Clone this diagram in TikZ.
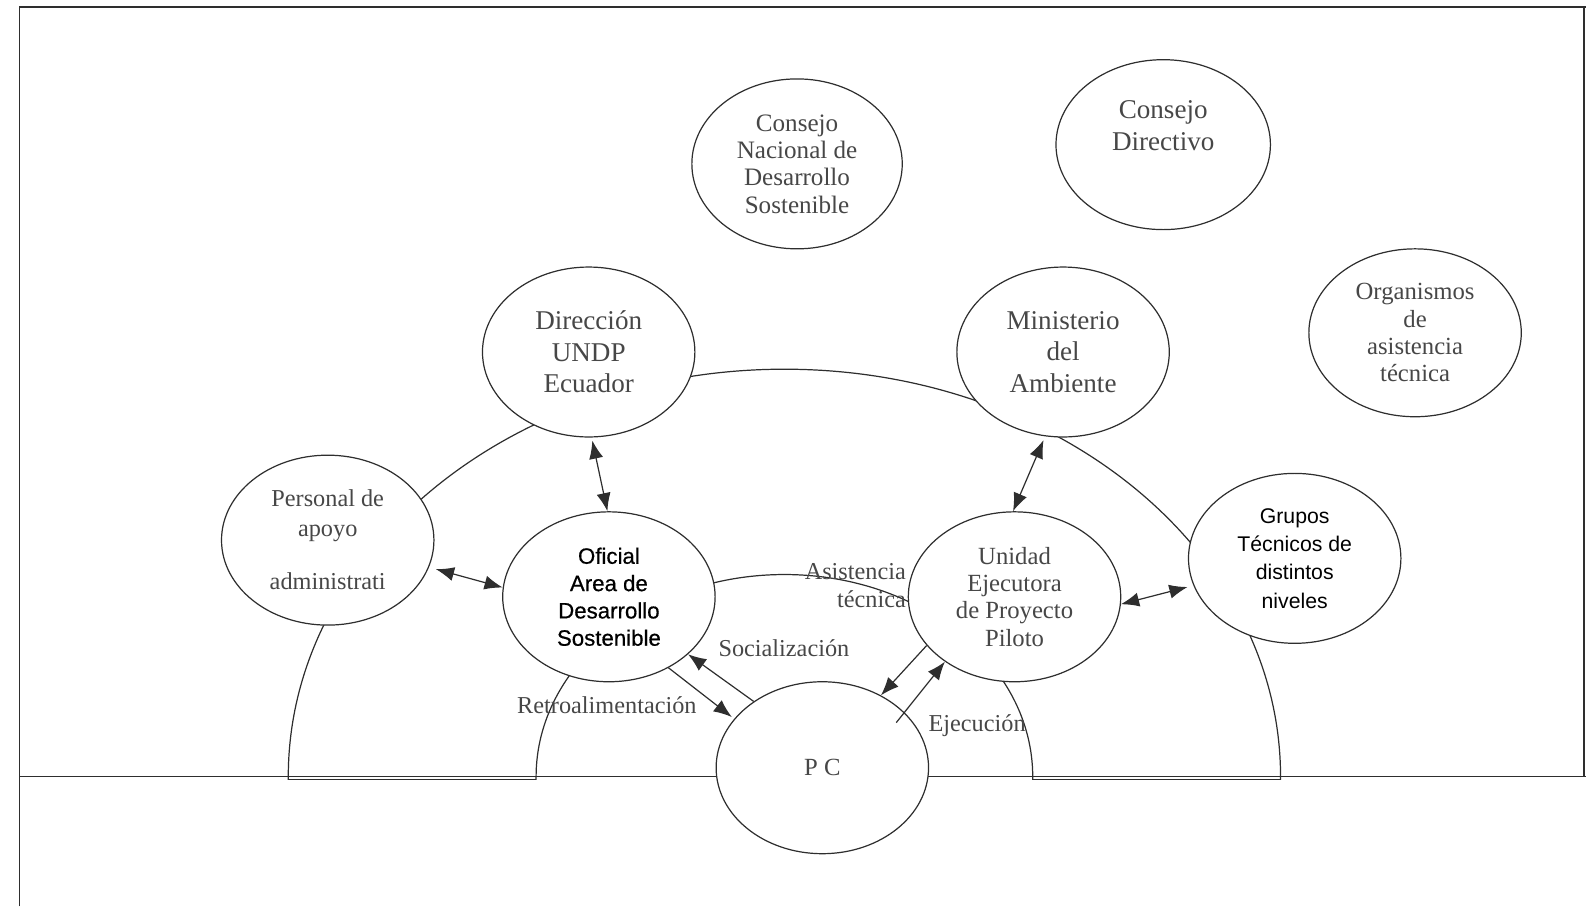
\documentclass[tikz,border=0pt]{standalone}
\usepackage{fontspec}
\setmainfont{Liberation Serif}
\newfontfamily\arialfam{Liberation Sans}
\newfontfamily\arialheavy[FakeBold=0.5]{Liberation Sans}
\usetikzlibrary{shapes.geometric,arrows.meta}
\definecolor{ink}{gray}{0.18}
\definecolor{txt}{gray}{0.28}
\begin{document}
\begin{tikzpicture}[x=0.5pt,y=-0.5pt,
  oval/.style 2 args={draw=ink, line width=0.6pt, fill=white, ellipse,
    inner sep=0pt, minimum width=#1pt, minimum height=#2pt, align=center, text=txt},
  bigtxt/.style={font=\fontsize{13.4}{15.5}\selectfont},
  midtxt/.style={font=\fontsize{12.2}{13.5}\selectfont},
  sanstxt/.style={font=\arialfam\fontsize{10.5}{13.5}\selectfont, text=black},
  lbl/.style={font=\fontsize{12}{13.5}\selectfont, text=txt, inner sep=0pt},
  line/.style={draw=ink, line width=0.6pt},
  conn/.style={line, -{Latex[length=9pt,width=7pt]}},
  both/.style={line, {Latex[length=9pt,width=7pt]}-{Latex[length=9pt,width=7pt]}},
]
\useasboundingbox (0,0) rectangle (1568,896);

% frame
\draw[line] (19,896) -- (19,7) -- (1568,7);
\draw[line] (1566,7) -- (1566,768);
% ground line
\draw[line] (19,768) -- (1568,768);

% outer and inner arches
\coordinate (oL) at (285,768);
\coordinate (iL) at (530,768);
\coordinate (iR) at (1021,768);
\coordinate (oR) at (1266,768);
\draw[line] (285,771) -- (oL) arc[start angle=180, end angle=0, x radius=245.25pt, y radius=201.5pt] -- (1266,771);
\draw[line] (530,771) -- (iL) arc[start angle=180, end angle=0, x radius=122.75pt, y radius=100pt] -- (1021,771);
\draw[line] (285,771) -- (530,771);
\draw[line] (1021,771) -- (1266,771);

% upper bodies
\node[oval={104}{84}, midtxt, font=\fontsize{12.4}{13.5}\selectfont] (cnds) at (788,162) {Consejo\\Nacional de\\Desarrollo\\Sostenible};
\node[oval={106}{84}, label={[align=center, text=txt, bigtxt, font=\fontsize{13.4}{16}\selectfont, yshift=9.5pt]center:Consejo\\Directivo}] (cdir) at (1150,143) {};
\node[oval={105}{83}, midtxt] (org) at (1399,329) {Organismos\\de\\asistencia\\técnica};

% second row
\node[oval={105}{84}, bigtxt] (dir) at (582,348) {Dirección\\UNDP\\Ecuador};
\node[oval={105}{84}, bigtxt] (min) at (1051,348) {Ministerio\\del\\Ambiente};

% third row
\node[oval={105}{84}, midtxt, font=\fontsize{12}{14.5}\selectfont] (pers) at (324,534) {Personal de\\apoyo\\[12pt]administrati};
\node[oval={105}{84}, sanstxt, font=\arialheavy\fontsize{11}{13.5}\selectfont] (ofi) at (602,590) {Oficial\\Area de\\Desarrollo\\Sostenible};
\node[oval={105}{84}, midtxt] (uni) at (1003,590) {Unidad\\Ejecutora\\de Proyecto\\Piloto};
\node[oval={105}{84}, sanstxt, font=\arialfam\fontsize{10.5}{14}\selectfont] (gru) at (1280,552) {Grupos\\Técnicos de\\distintos\\niveles};

% project core
\node[oval={105}{85}, midtxt] (pc) at (813,759) {P C};

% connectors
\draw[both, shorten <=1.5pt] (dir.-88) -- (ofi.91);
\draw[both, shorten <=3.5pt] (pers.-15) -- (ofi.175);
\draw[both, shorten <=2pt] (min.-102) -- (uni.91);
\draw[both, shorten >=3pt] (uni.-4) -- (gru.-165);
\draw[conn, shorten >=1.5pt] (ofi.-50) -- (pc.151);
\draw[conn] (pc.136) -- (ofi.-36);
\draw[conn] (uni.-151) -- (pc.51);
\draw[conn, shorten <=-6.5pt] (pc.34) -- (uni.-137);

% connector labels
\node[lbl, anchor=base] (lsoc) at (775,649) {Socialización};
\node[lbl, anchor=base] (lret) at (600,705) {Retroalimentación};
\node[lbl, anchor=base east] (lasi) at (896,573) {Asistencia};
\node[lbl, anchor=base east] (ltec) at (896,601) {técnica};
\node[lbl, anchor=base] (leje) at (966,723) {Ejecución};
\end{tikzpicture}
\end{document}
